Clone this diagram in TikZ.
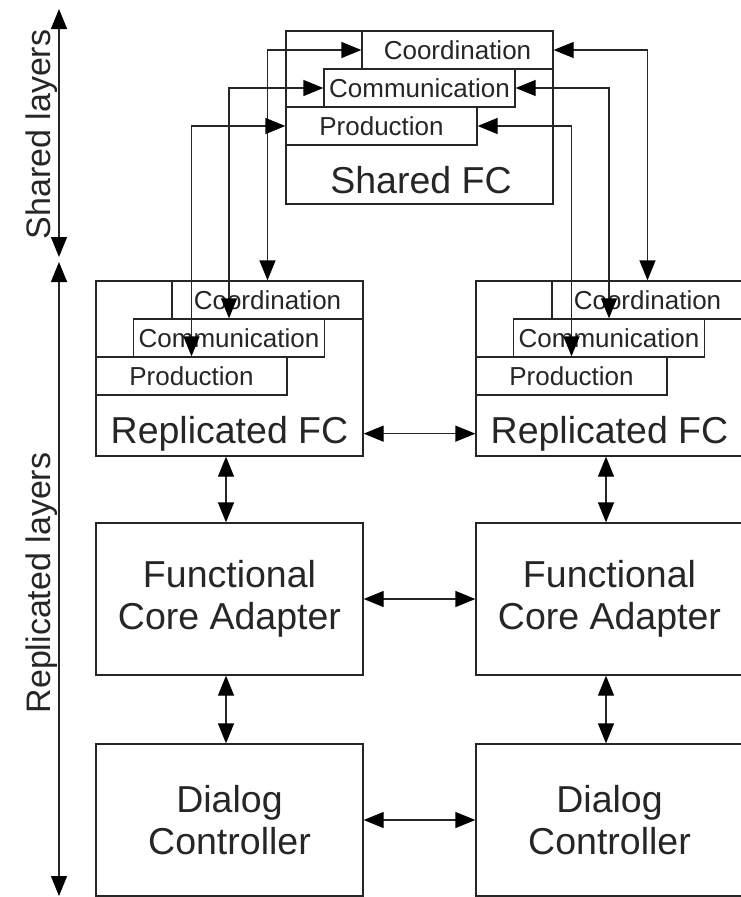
\documentclass[tikz,border=0pt]{standalone}
\usepackage{fontspec}
\setmainfont{Liberation Sans}
\usetikzlibrary{arrows.meta}
\definecolor{ink}{RGB}{38,38,38}
\begin{document}
\begin{tikzpicture}[x=1pt,y=-1pt,
  outer/.style={draw=ink,line width=1.3pt,inner sep=0pt,minimum width=267pt,minimum height=175pt},
  layerbox/.style={draw=ink,line width=1.3pt,fill=white,inner sep=0pt,
    minimum width=191pt,minimum height=38pt,text=ink,font=\fontsize{26}{30}\selectfont},
  bigbox/.style={draw=ink,line width=1.3pt,inner sep=0pt,minimum width=267pt,
    minimum height=152pt,align=center,text=ink,font=\fontsize{37.5}{42}\selectfont},
  bigtext/.style={text=ink,font=\fontsize{37.5}{42}\selectfont,inner sep=0pt,anchor=base},
  sidetext/.style={text=ink,font=\fontsize{34}{40}\selectfont,rotate=90,anchor=base,inner sep=0pt},
  >={Triangle[length=20pt 0 0,width=16pt 0 0,color=black]},
  link/.style={draw=ink,line width=1.3pt,<->}]
\clip (0,0) rectangle (741,897);

% shared functional core
\node[outer,minimum height=173pt] (sFC) at (419.5,117.5) {};
\node[layerbox] (sCoord) at (457.5,50) {Coordination};
\node[layerbox] (sComm) at (419.5,88) {Communication};
\node[layerbox] (sProd) at (381.5,126) {Production};
\node[bigtext] (sFCt) at (421,193) {Shared FC};

% replicated functional cores
\node[outer] (lFC) at (229.5,368.5) {};
\node[layerbox] (lCoord) at (267.5,300) {Coordination};
\node[layerbox] (lComm) at (229,338) {Communication};
\node[layerbox] (lProd) at (191.5,376) {Production};
\node[bigtext] (lFCt) at (229.5,443) {Replicated FC};

\node[outer] (rFC) at (609.5,368.5) {};
\node[layerbox] (rCoord) at (647.5,300) {Coordination};
\node[layerbox] (rComm) at (609,338) {Communication};
\node[layerbox] (rProd) at (571.5,376) {Production};
\node[bigtext] (rFCt) at (609.5,443) {Replicated FC};

% adapters and dialog controllers
\node[bigbox] (lFCA) at (229.5,599) {Functional\\Core Adapter};
\node[bigbox] (rFCA) at (609.5,599) {Functional\\Core Adapter};
\node[bigbox] (lDC) at (229.5,820) {Dialog\\Controller};
\node[bigbox] (rDC) at (609.5,820) {Dialog\\Controller};

% links between shared and replicated layers
\draw[link] (lCoord.north) |- (sCoord.west);
\draw[link] (lComm.north) |- (sComm.west);
\draw[link] (lProd.north) |- (sProd.west);
\draw[link] (rCoord.north) |- (sCoord.east);
\draw[link] (rComm.north) |- (sComm.east);
\draw[link] (rProd.north) |- (sProd.east);

% horizontal links between the two replicas
\draw[link] ([yshift=23pt]lFC.south east) -- ([yshift=23pt]rFC.south west);
\draw[link] (lFCA) -- (rFCA);
\draw[link] (lDC) -- (rDC);

% vertical links inside each replica
\draw[link] ([xshift=-3.5pt]lFC.south) -- ([xshift=-3.5pt]lFCA.north);
\draw[link] ([xshift=-3.5pt]lFCA.south) -- ([xshift=-3.5pt]lDC.north);
\draw[link] ([xshift=-3.5pt]rFC.south) -- ([xshift=-3.5pt]rFCA.north);
\draw[link] ([xshift=-3.5pt]rFCA.south) -- ([xshift=-3.5pt]rDC.north);

% layer extents on the left
\coordinate (shTop) at (59,9);
\coordinate (shBot) at (59,257);
\coordinate (repTop) at (59,262);
\coordinate (repBot) at (59,896);
\draw[link] (shTop) -- (shBot);
\draw[link] (repTop) -- (repBot);
\node[sidetext] (shLbl) at (50,134.5) {Shared layers};
\node[sidetext] (repLbl) at (50,583) {Replicated layers};
\end{tikzpicture}
\end{document}
